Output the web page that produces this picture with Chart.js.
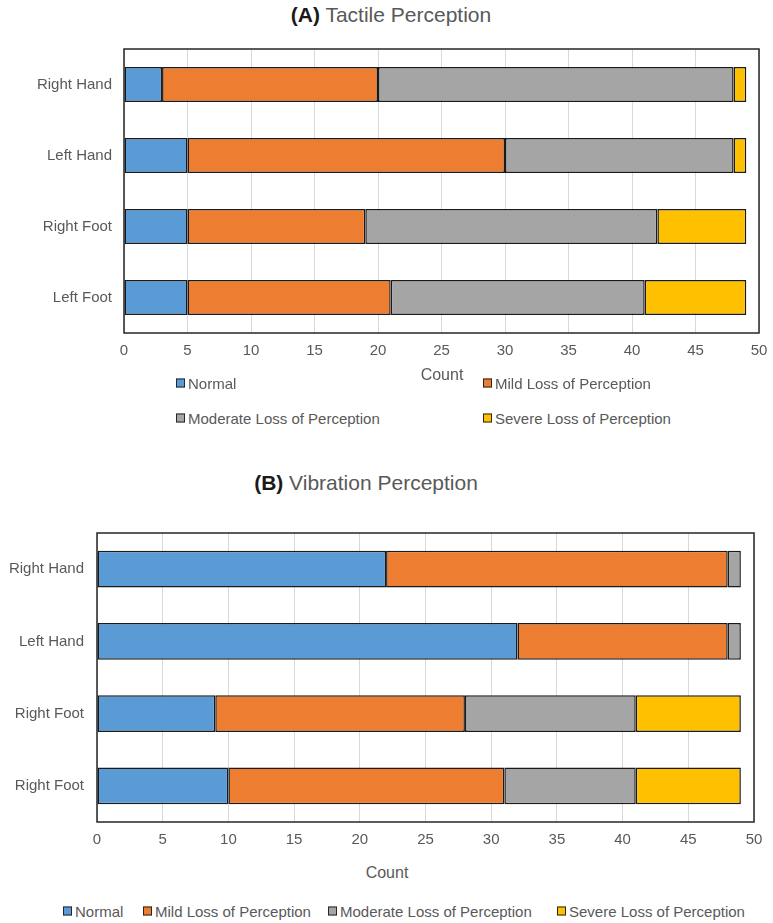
<!DOCTYPE html>
<html>
<head>
<meta charset="utf-8">
<script src="https://cdn.jsdelivr.net/npm/chart.js@4.4.1/dist/chart.umd.min.js"></script>
<style>
  body { margin: 0; background: #fff; }
  #page { position: relative; width: 773px; height: 923px; font-family: 'Liberation Sans', Arial, sans-serif; color: #595959; }
  canvas { position: absolute; left: 0; }
  .title { position: absolute; font-size: 21px; white-space: nowrap; transform: translate(-50%, -50%); }
  .title b { color: #1a1a1a; }
  .axis-title { position: absolute; font-size: 16px; white-space: nowrap; transform: translate(-50%, -50%); }
  .legend-item { position: absolute; font-size: 15px; white-space: nowrap; transform: translateY(-50%); display: flex; align-items: center; }
  .legend-item .box { width: 7px; height: 7px; border: 1px solid #262626; margin-right: 3px; }
</style>
</head>
<body>
<div id="page">
  <div class="title" style="left:391px; top:15px;"><b>(A)</b> Tactile Perception</div>
  <canvas id="chartA" width="773" height="372" style="top:0px;"></canvas>
  <div class="axis-title" style="left:442px; top:375px;">Count</div>
  <div id="legendA"></div>

  <div class="title" style="left:366px; top:483px;"><b>(B)</b> Vibration Perception</div>
  <canvas id="chartB" width="773" height="360" style="top:500px;"></canvas>
  <div class="axis-title" style="left:387px; top:873px;">Count</div>
  <div id="legendB"></div>
</div>
<script>
// series shared by both panels
const seriesNames = ['Normal', 'Mild Loss of Perception', 'Moderate Loss of Perception', 'Severe Loss of Perception'];
const seriesColors = ['#5B9BD5', '#ED7D31', '#A5A5A5', '#FFC000'];

// (A) Tactile Perception
const categoriesA = ['Right Hand', 'Left Hand', 'Right Foot', 'Left Foot'];
const normalA   = [3, 5, 5, 5];
const mildA     = [17, 25, 14, 16];
const moderateA = [28, 18, 23, 20];
const severeA   = [1, 1, 7, 8];

// (B) Vibration Perception
const categoriesB = ['Right Hand', 'Left Hand', 'Right Foot', 'Right Foot'];
const normalB   = [22, 32, 9, 10];
const mildB     = [26, 16, 19, 21];
const moderateB = [1, 1, 13, 10];
const severeB   = [0, 0, 8, 8];

const countMin = 0;
const countMax = 50;
const countStep = 5;

const textColor = '#595959';

// black box round the plot area
const framePlugin = {
  id: 'frame',
  afterDraw(chart) {
    const { ctx, chartArea: a } = chart;
    ctx.save();
    ctx.strokeStyle = '#262626';
    ctx.lineWidth = 1.5;
    ctx.strokeRect(a.left, a.top, a.right - a.left, a.bottom - a.top);
    ctx.restore();
  }
};

function makeChart(id, categories, values, cfg) {
  const ctx = document.getElementById(id).getContext('2d');
  return new Chart(ctx, {
    type: 'bar',
    data: {
      labels: categories,
      datasets: values.map((v, i) => ({
        label: seriesNames[i],
        data: v,
        backgroundColor: seriesColors[i],
        borderColor: '#1a1a1a',
        borderWidth: 1.5,
        borderSkipped: false,
        barPercentage: cfg.barPct,
        categoryPercentage: 1
      }))
    },
    options: {
      indexAxis: 'y',
      responsive: false,
      animation: false,
      layout: { padding: { top: cfg.padTop, right: cfg.padRight, left: 0, bottom: 0 } },
      plugins: {
        legend: { display: false },
        tooltip: { enabled: false }
      },
      scales: {
        x: {
          stacked: true,
          min: countMin,
          max: countMax,
          ticks: { stepSize: countStep, padding: 9, color: textColor, font: { size: 15, family: "'Liberation Sans', Arial, sans-serif" } },
          grid: { color: '#d9d9d9', drawTicks: false },
          border: { display: false },
          afterFit: (s) => {
            s.height = cfg.xHeight;
            s.paddingLeft = 0;
            s.paddingRight = 0;
          }
        },
        y: {
          stacked: true,
          ticks: { padding: cfg.yPad, color: textColor, font: { size: 15, family: "'Liberation Sans', Arial, sans-serif" } },
          grid: { display: false, drawTicks: false },
          border: { display: false },
          afterFit: (s) => { s.width = cfg.yWidth; }
        }
      }
    },
    plugins: [framePlugin]
  });
}

function buildLegend(id, chart, spots) {
  const box = document.getElementById(id);
  chart.data.datasets.forEach((ds, i) => {
    const item = document.createElement('div');
    item.className = 'legend-item';
    item.style.left = spots[i][0] + 'px';
    item.style.top = spots[i][1] + 'px';
    const sw = document.createElement('span');
    sw.className = 'box';
    sw.style.background = ds.backgroundColor;
    item.appendChild(sw);
    item.appendChild(document.createTextNode(ds.label));
    box.appendChild(item);
  });
}

const chartA = makeChart('chartA', categoriesA, [normalA, mildA, moderateA, severeA],
  { padTop: 49, padRight: 14, xHeight: 39, yWidth: 124, yPad: 12, barPct: 0.49 });
const chartB = makeChart('chartB', categoriesB, [normalB, mildB, moderateB, severeB],
  { padTop: 33, padRight: 19, xHeight: 38, yWidth: 97, yPad: 13, barPct: 0.51 });

buildLegend('legendA', chartA, [[176, 383], [483, 383], [176, 418], [483, 418]]);
buildLegend('legendB', chartB, [[63, 911], [143, 911], [328, 911], [557, 911]]);
</script>
</body>
</html>
